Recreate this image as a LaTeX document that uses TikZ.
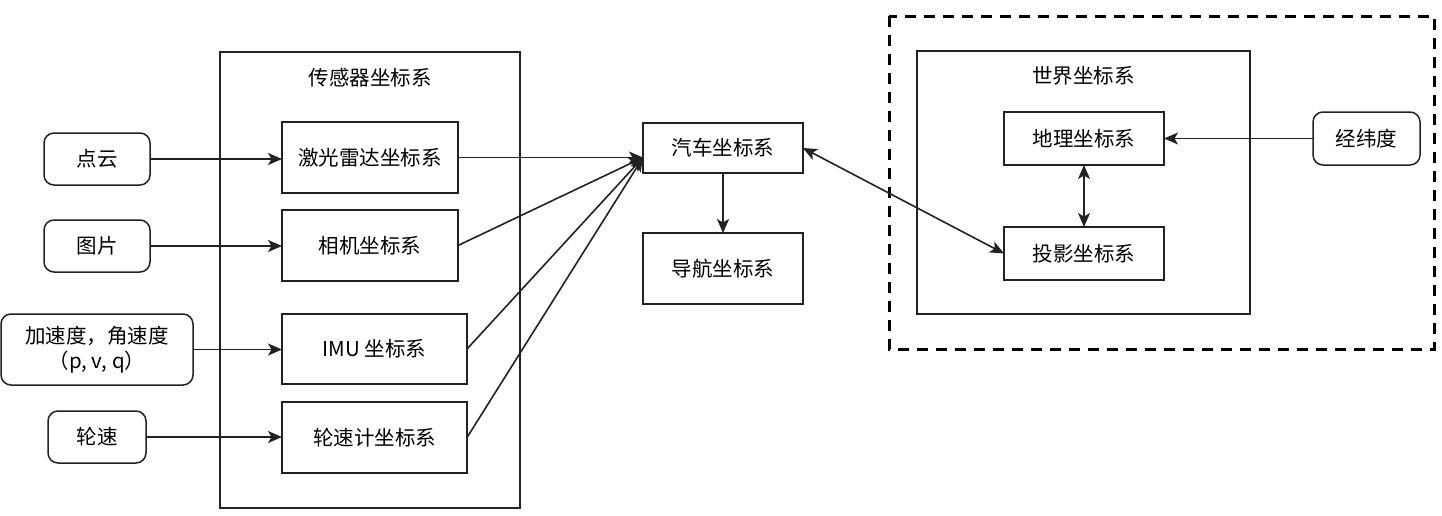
\documentclass[tikz,border=0pt]{standalone}
\usepackage{fontspec}
\setmainfont{Noto Sans CJK SC}
\usetikzlibrary{arrows.meta,calc}
\definecolor{ln}{HTML}{222222}
\tikzset{
  box/.style={draw=ln, line width=1.5pt, rectangle, inner sep=0pt, outer sep=0pt, align=center, font=\fontsize{20.5}{25}\selectfont},
  rbox/.style={box, rounded corners=10pt},
  grp/.style={draw=ln, line width=1.5pt},
  lbl/.style={inner sep=0pt, font=\fontsize{20.5}{25}\selectfont},
  tip/.tip={Stealth[length=14pt,width=12pt,inset=3.5pt]},
  arr/.style={draw=ln, line width=1.6pt, -tip},
  darr/.style={draw=ln, line width=1.6pt, tip-tip},
}
\begin{document}
\begin{tikzpicture}[x=1pt,y=-1pt]
\useasboundingbox (0,0) rectangle (1442,515);
% group frames
\draw[grp] (220,52) rectangle (520,508);
\node[lbl] (sensT) at (370,78) {传感器坐标系};
\draw[draw=black, line width=3pt, dash pattern=on 11pt off 8pt] (889,16) rectangle (1434,349);
\draw[grp] (917,51) rectangle (1250,314);
\node[lbl] (worldT) at (1083.5,76) {世界坐标系};
% input nodes
\node[rbox, minimum width=106pt, minimum height=52pt] (pc) at (97,159) {点云};
\node[rbox, minimum width=106pt, minimum height=52pt] (img) at (97,246) {图片};
\node[rbox, minimum width=192pt, minimum height=71pt] (acc) at (97,349.5) {加速度，角速度\\（p, v, q）};
\node[rbox, minimum width=98pt, minimum height=52pt] (wh) at (97,437) {轮速};
% sensor frames
\node[box, minimum width=176pt, minimum height=71pt] (lidar) at (370,157.5) {激光雷达坐标系};
\node[box, minimum width=176pt, minimum height=71pt] (cam) at (370,245.5) {相机坐标系};
\node[box, minimum width=185pt, minimum height=70pt] (imu) at (374.5,349) {IMU 坐标系};
\node[box, minimum width=185pt, minimum height=71pt] (odo) at (374.5,437.5) {轮速计坐标系};
% vehicle
\node[box, minimum width=160pt, minimum height=50pt] (car) at (723,148) {汽车坐标系};
\node[box, minimum width=160pt, minimum height=71pt] (nav) at (723,268.5) {导航坐标系};
% world
\node[box, minimum width=160pt, minimum height=53pt] (geo) at (1084,138.5) {地理坐标系};
\node[box, minimum width=160pt, minimum height=53pt] (proj) at (1084,253.5) {投影坐标系};
\node[rbox, minimum width=107pt, minimum height=53pt] (ll) at (1366.5,138.5) {经纬度};
\coordinate (cin) at (lidar.east -| car.west);
% connectors
\draw[arr] (pc.east) -- (pc.east -| lidar.west);
\draw[arr] (img.east) -- (img.east -| cam.west);
\draw[arr] (acc.east) -- (acc.east -| imu.west);
\draw[arr] (wh.east) -- (wh.east -| odo.west);
\draw[arr] (lidar.east) -- (cin);
\draw[arr] (cam.east) -- (cin);
\draw[arr] (imu.east) -- (cin);
\draw[arr] (odo.east) -- (cin);
\draw[arr] (car.south) -- (nav.north);
\draw[darr] (car.east) -- (proj.west);
\draw[darr] (geo.south) -- (proj.north);
\draw[arr] (ll.west) -- (geo.east);
\end{tikzpicture}
\end{document}
